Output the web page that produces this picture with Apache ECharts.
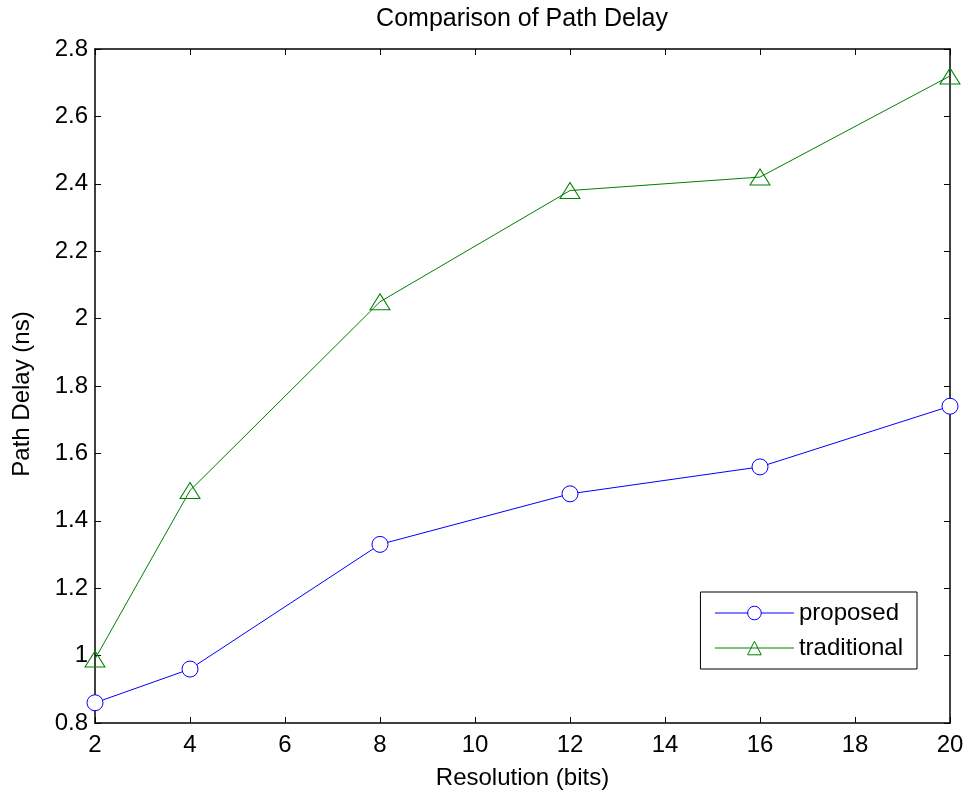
<!DOCTYPE html>
<html><head><meta charset="utf-8">
<script src="https://cdn.jsdelivr.net/npm/echarts@6/dist/echarts.min.js"></script>
<style>html,body{margin:0;padding:0;background:#fff}#c{width:967px;height:795px}</style>
</head><body><div id="c"></div>
<script>
const resolution = [2, 4, 8, 12, 16, 20];
const proposed = [0.86, 0.96, 1.33, 1.48, 1.56, 1.74];
const traditional = [0.99, 1.49, 2.05, 2.38, 2.42, 2.72];
const xTicks = [2, 4, 6, 8, 10, 12, 14, 16, 18, 20];
const yTicks = [0.8, 1, 1.2, 1.4, 1.6, 1.8, 2, 2.2, 2.4, 2.6, 2.8];

const font = 'Liberation Sans, Arial, sans-serif';
const fs = 24;
const chart = echarts.init(document.getElementById('c'));
const axisCommon = {
  axisLine: {show: true, lineStyle: {color: '#000', width: 1.5}},
  axisTick: {show: true, inside: true, length: 6, lineStyle: {color: '#000'}},
  splitLine: {show: false}
};
chart.setOption({
  animation: false,
  backgroundColor: '#fff',
  title: {text: 'Comparison of Path Delay', left: 517, top: 2, textAlign: 'center',
    textStyle: {fontFamily: font, fontWeight: 'normal', fontSize: 25, color: '#000'}},
  grid: {left: 95, right: 17, top: 49, bottom: 72, show: false, containLabel: false, outerBoundsMode: 'none'},
  legend: {
    right: 50, top: 592, orient: 'vertical', itemWidth: 79, itemHeight: 17, itemGap: 11,
    padding: [9, 14, 9, 14], borderColor: '#000', borderWidth: 1, backgroundColor: '#fff',
    textStyle: {fontFamily: font, fontSize: fs, color: '#000'},
    itemStyle: {borderWidth: 1},
    lineStyle: {width: 1},
    data: ['proposed', 'traditional']
  },
  xAxis: [
    Object.assign({type: 'value', min: xTicks[0], max: xTicks[xTicks.length - 1], interval: 2,
      name: 'Resolution (bits)', nameLocation: 'middle', nameGap: 43,
      nameTextStyle: {fontFamily: font, fontSize: fs, color: '#000'},
      axisLabel: {fontFamily: font, fontSize: fs, color: '#000', margin: 10}}, axisCommon),
    Object.assign({type: 'value', position: 'top', min: 2, max: 20, interval: 2,
      axisLabel: {show: false}}, axisCommon)
  ],
  yAxis: [
    Object.assign({type: 'value', min: yTicks[0], max: yTicks[yTicks.length - 1], interval: 0.2,
      name: 'Path Delay (ns)', nameLocation: 'middle', nameGap: 61,
      nameTextStyle: {fontFamily: font, fontSize: fs, color: '#000', padding: [0, 16, 0, 0]},
      axisLabel: {fontFamily: font, fontSize: fs, color: '#000', margin: 7,
        formatter: v => String(Math.round(v * 10) / 10)}}, axisCommon),
    Object.assign({type: 'value', position: 'right', min: 0.8, max: 2.8, interval: 0.2,
      axisLabel: {show: false}}, axisCommon)
  ],
  series: [
    {name: 'proposed', type: 'line', data: resolution.map((x, i) => [x, proposed[i]]),
      symbol: 'circle', symbolSize: 16, showAllSymbol: true,
      lineStyle: {color: '#0000ff', width: 1},
      itemStyle: {color: '#fff', borderColor: '#0000ff', borderWidth: 1}},
    {name: 'traditional', type: 'line', data: resolution.map((x, i) => [x, traditional[i]]),
      symbol: 'triangle', symbolSize: [20, 16], showAllSymbol: true,
      lineStyle: {color: '#008000', width: 1},
      itemStyle: {color: 'rgba(0,0,0,0)', borderColor: '#008000', borderWidth: 1}}
  ]
});
</script></body></html>
